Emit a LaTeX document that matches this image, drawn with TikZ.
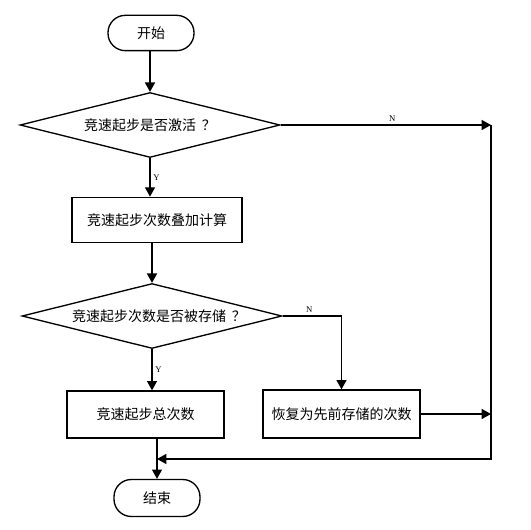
\documentclass[tikz,border=0pt]{standalone}
\usepackage{fontspec}
\setmainfont{Liberation Serif}
\newfontfamily\cjk{Noto Sans CJK SC}
\usetikzlibrary{arrows.meta,positioning,shapes.geometric}

\begin{document}
\begin{tikzpicture}[
  x=0.75pt, y=-0.75pt,
  term/.style={draw, rounded corners=13pt, minimum width=64.5pt,
               minimum height=26.5pt, font=\cjk\fontsize{10.5}{12}\selectfont},
  proc/.style={draw, rectangle, minimum height=34pt, inner sep=0pt,
               font=\cjk\fontsize{10.5}{12}\selectfont},
  dec/.style={draw, diamond, aspect=4, minimum width=195pt, minimum height=48.75pt,
              inner sep=0pt, font=\cjk\fontsize{10.5}{12}\selectfont},
  yn/.style={font=\fontsize{6.5}{7}\selectfont, inner sep=2pt},
  >={Triangle[length=7pt, width=7.5pt]}, line width=1pt
]
\useasboundingbox (0,0) rectangle (531,530);

% Nodes of the main column
\node[term] (start) at (151,33)  {开始};
\node[dec]  (q1)    at (150,125) {竞速起步是否激活\hspace{0.4em}？};
\node[proc, minimum width=127.5pt] (calc) at (157,220) {竞速起步次数叠加计算};
\node[dec]  (q2)    at (152,316) {\hspace{1em}竞速起步次数是否被存储\hspace{0.4em}？};
\node[proc, minimum width=117.75pt, minimum height=35.25pt] (total)   at (145.5,414.5) {竞速起步总次数};
\node[proc, minimum width=117.75pt, minimum height=36pt]    (restore) at (341.5,414)   {恢复为先前存储的次数};
\node[term, minimum height=27.75pt] (end) at (157,498) {结束};

% Return line on the right
\coordinate (r1) at (491,125);
\coordinate (r2) at (491,459);
\coordinate (m)  at (end.north |- r2);

% Connectors
\draw[->] (start.south -| q1.north) -- (q1.north);
\draw[->] (q1.south) -- node[yn, right, pos=0.5]{Y} (q1.south |- calc.north);
\draw[->] (q2.north |- calc.south) -- (q2.north);
\draw[->] (q2.south) -- node[yn, right, pos=0.5]{Y} (q2.south |- total.north);
\draw[->] (q2.east) -- node[yn, above, pos=0.45]{N} (restore.north |- q2.east) -- (restore.north);
\draw[->] (q1.east) -- node[yn, above, pos=0.53]{N} (r1);
\draw[->] (restore.east) -- (restore.east -| r1);
\draw[->] (r1) -- (r2) -- (m);
\draw[->] (end.north |- total.south) -- (end.north);
\end{tikzpicture}
\end{document}
